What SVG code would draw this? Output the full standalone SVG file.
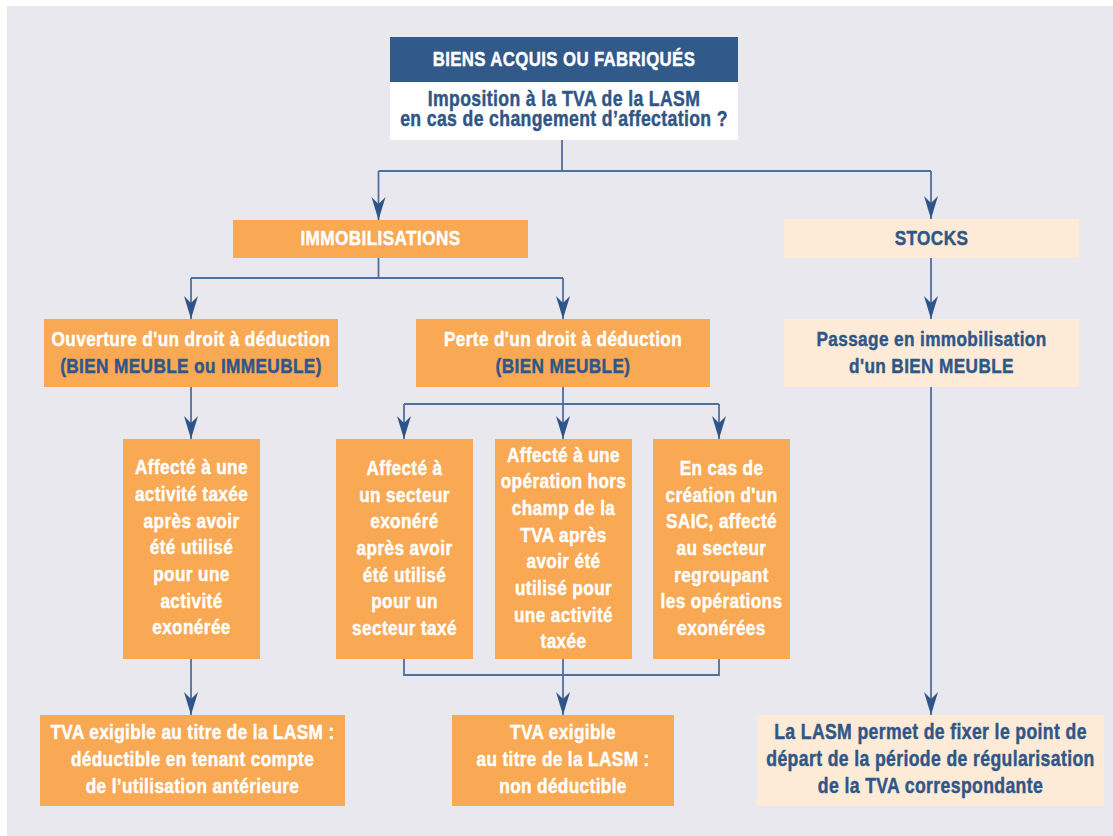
<svg xmlns="http://www.w3.org/2000/svg" width="1113" height="836" viewBox="0 0 1113 836">
<defs>
<style>
.bg{fill:#e9e8ef}
.hd{fill:#315a8b}
.wh{fill:#ffffff}
.or{fill:#f9a954}
.pe{fill:#fdebd7}
text{font-family:"Liberation Sans",Arial,sans-serif;font-weight:bold;font-size:21px;letter-spacing:0.45px;text-anchor:middle;stroke-width:0.45px;stroke-linejoin:round}
.tw{fill:#ffffff;stroke:#ffffff}
.tb{fill:#2f5687;stroke:#2f5687}
.c{fill:none;stroke:#4f6f9c;stroke-width:1.8}
</style>
<marker id="ah" markerUnits="userSpaceOnUse" markerWidth="24" markerHeight="16" refX="23" refY="7" orient="auto" viewBox="0 0 24 14">
<path d="M0,0 L23,7 L0,14 L7,7 Z" fill="#2d5589"/>
</marker>
</defs>
<rect x="0" y="0" width="1113" height="836" fill="#ffffff"/>
<rect class="bg" x="7" y="6" width="1106" height="830"/>

<g id="connectors">
<path class="c" d="M562,140 V171 M378.5,171 H931"/>
<path class="c" d="M378.5,171 V220" marker-end="url(#ah)"/>
<path class="c" d="M931,171 V219" marker-end="url(#ah)"/>
<path class="c" d="M378.5,258 V278 M191,278 H563"/>
<path class="c" d="M191,278 V319" marker-end="url(#ah)"/>
<path class="c" d="M563,278 V319" marker-end="url(#ah)"/>
<path class="c" d="M931,258 V319" marker-end="url(#ah)"/>
<path class="c" d="M191,387 V439" marker-end="url(#ah)"/>
<path class="c" d="M563,387 V404 M404,404 H719"/>
<path class="c" d="M404,404 V439" marker-end="url(#ah)"/>
<path class="c" d="M563,404 V439" marker-end="url(#ah)"/>
<path class="c" d="M719,404 V439" marker-end="url(#ah)"/>
<path class="c" d="M191,659 V715" marker-end="url(#ah)"/>
<path class="c" d="M404,659 V675 H719 V659 M563,659 V675"/>
<path class="c" d="M563,675 V715" marker-end="url(#ah)"/>
<path class="c" d="M931,387 V715" marker-end="url(#ah)"/>
</g>

<g id="n-biens">
<rect class="hd" x="390" y="37" width="348" height="45"/>
<rect class="wh" x="390" y="82" width="348" height="58"/>
<text class="tw" transform="translate(564,66) scale(0.82,1)" style="font-size:20.5px">BIENS ACQUIS OU FABRIQUÉS</text>
<text class="tb" transform="translate(564,106) scale(0.82,1)" style="font-size:21.5px">Imposition à la TVA de la LASM</text>
<text class="tb" transform="translate(564,126) scale(0.82,1)" style="font-size:21.5px">en cas de changement d’affectation ?</text>
</g>

<g id="n-immo">
<rect class="or" x="233" y="220" width="295" height="38"/>
<text class="tw" transform="translate(380.5,245) scale(0.82,1)">IMMOBILISATIONS</text>
</g>

<g id="n-stocks">
<rect class="pe" x="784" y="219" width="295" height="39"/>
<text class="tb" transform="translate(931.5,245) scale(0.82,1)">STOCKS</text>
</g>

<g id="n-ouverture">
<rect class="or" x="44" y="319" width="294" height="68"/>
<text class="tw" transform="translate(191,346) scale(0.82,1)">Ouverture d'un droit à déduction</text>
<text class="tb" transform="translate(191,373) scale(0.82,1)">(BIEN MEUBLE ou IMMEUBLE)</text>
</g>

<g id="n-perte">
<rect class="or" x="416" y="319" width="294" height="68"/>
<text class="tw" transform="translate(563,346) scale(0.82,1)">Perte d'un droit à déduction</text>
<text class="tb" transform="translate(563,373) scale(0.82,1)">(BIEN MEUBLE)</text>
</g>

<g id="n-passage">
<rect class="pe" x="784" y="319" width="295" height="68"/>
<text class="tb" transform="translate(931.5,346) scale(0.82,1)">Passage en immobilisation</text>
<text class="tb" transform="translate(931.5,373) scale(0.82,1)">d'un BIEN MEUBLE</text>
</g>

<g id="n-taxee">
<rect class="or" x="123" y="439" width="137" height="220"/>
<text class="tw" transform="translate(191.5,474.3) scale(0.82,1)">Affecté à une</text>
<text class="tw" transform="translate(191.5,501) scale(0.82,1)">activité taxée</text>
<text class="tw" transform="translate(191.5,527.7) scale(0.82,1)">après avoir</text>
<text class="tw" transform="translate(191.5,554.3) scale(0.82,1)">été utilisé</text>
<text class="tw" transform="translate(191.5,581) scale(0.82,1)">pour une</text>
<text class="tw" transform="translate(191.5,607.7) scale(0.82,1)">activité</text>
<text class="tw" transform="translate(191.5,634.3) scale(0.82,1)">exonérée</text>
</g>

<g id="n-exonere">
<rect class="or" x="336" y="439" width="137" height="220"/>
<text class="tw" transform="translate(404.5,475) scale(0.82,1)">Affecté à</text>
<text class="tw" transform="translate(404.5,501.7) scale(0.82,1)">un secteur</text>
<text class="tw" transform="translate(404.5,528.3) scale(0.82,1)">exonéré</text>
<text class="tw" transform="translate(404.5,555) scale(0.82,1)">après avoir</text>
<text class="tw" transform="translate(404.5,581.7) scale(0.82,1)">été utilisé</text>
<text class="tw" transform="translate(404.5,608.3) scale(0.82,1)">pour un</text>
<text class="tw" transform="translate(404.5,635) scale(0.82,1)">secteur taxé</text>
</g>

<g id="n-hors-champ">
<rect class="or" x="495" y="439" width="137" height="220"/>
<text class="tw" transform="translate(563.5,461.7) scale(0.82,1)">Affecté à une</text>
<text class="tw" transform="translate(563.5,488.3) scale(0.82,1)">opération hors</text>
<text class="tw" transform="translate(563.5,515) scale(0.82,1)">champ de la</text>
<text class="tw" transform="translate(563.5,541.7) scale(0.82,1)">TVA après</text>
<text class="tw" transform="translate(563.5,568.3) scale(0.82,1)">avoir été</text>
<text class="tw" transform="translate(563.5,595) scale(0.82,1)">utilisé pour</text>
<text class="tw" transform="translate(563.5,621.7) scale(0.82,1)">une activité</text>
<text class="tw" transform="translate(563.5,648.3) scale(0.82,1)">taxée</text>
</g>

<g id="n-saic">
<rect class="or" x="653" y="439" width="137" height="220"/>
<text class="tw" transform="translate(721.5,475) scale(0.82,1)">En cas de</text>
<text class="tw" transform="translate(721.5,501.7) scale(0.82,1)">création d'un</text>
<text class="tw" transform="translate(721.5,528.3) scale(0.82,1)">SAIC, affecté</text>
<text class="tw" transform="translate(721.5,555) scale(0.82,1)">au secteur</text>
<text class="tw" transform="translate(721.5,581.7) scale(0.82,1)">regroupant</text>
<text class="tw" transform="translate(721.5,608.3) scale(0.82,1)">les opérations</text>
<text class="tw" transform="translate(721.5,635) scale(0.82,1)">exonérées</text>
</g>

<g id="n-tva-deductible">
<rect class="or" x="40" y="715" width="305" height="91"/>
<text class="tw" transform="translate(192.5,739.3) scale(0.82,1)">TVA exigible au titre de la LASM :</text>
<text class="tw" transform="translate(192.5,766) scale(0.82,1)">déductible en tenant compte</text>
<text class="tw" transform="translate(192.5,792.7) scale(0.82,1)">de l’utilisation antérieure</text>
</g>

<g id="n-tva-non-deductible">
<rect class="or" x="452" y="715" width="222" height="91"/>
<text class="tw" transform="translate(563,739.3) scale(0.82,1)">TVA exigible</text>
<text class="tw" transform="translate(563,766) scale(0.82,1)">au titre de la LASM :</text>
<text class="tw" transform="translate(563,792.7) scale(0.82,1)">non déductible</text>
</g>

<g id="n-regularisation">
<rect class="pe" x="757" y="715" width="347" height="91"/>
<text class="tb" transform="translate(930.5,739.3) scale(0.82,1)" style="font-size:21.5px">La LASM permet de fixer le point de</text>
<text class="tb" transform="translate(930.5,766) scale(0.82,1)" style="font-size:21.5px">départ de la période de régularisation</text>
<text class="tb" transform="translate(930.5,792.7) scale(0.82,1)" style="font-size:21.5px">de la TVA correspondante</text>
</g>
</svg>
